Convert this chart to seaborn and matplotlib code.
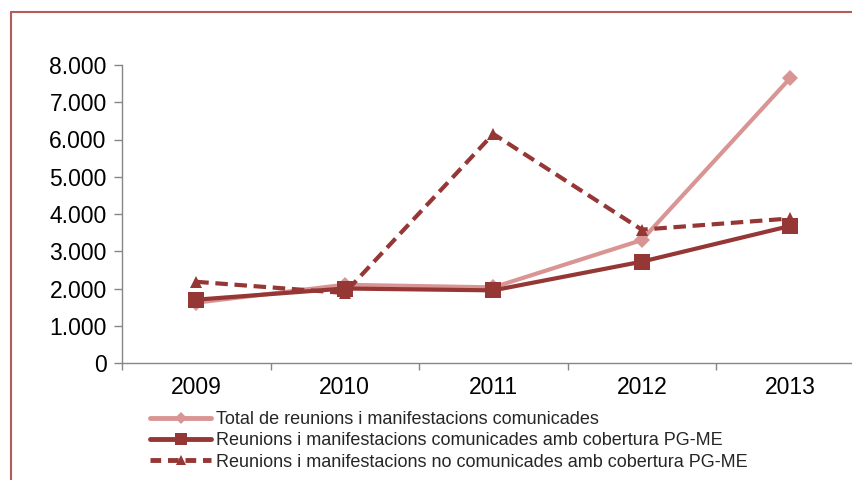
import matplotlib
matplotlib.use("Agg")
import matplotlib.pyplot as plt
from matplotlib.lines import Line2D
from matplotlib.ticker import FuncFormatter, FixedLocator
import numpy as np
import pandas as pd
import seaborn as sns

# data
years = ["2009", "2010", "2011", "2012", "2013"]
total_comunicades = [1620, 2100, 2030, 3300, 7650]
comunicades_pgme = [1700, 2000, 1950, 2720, 3680]
no_comunicades_pgme = [2180, 1880, 6150, 3580, 3880]
labels = [
    "Total de reunions i manifestacions comunicades",
    "Reunions i manifestacions comunicades amb cobertura PG-ME",
    "Reunions i manifestacions no comunicades amb cobertura PG-ME",
]

PINK = "#D99594"
DARK = "#953735"
GREY = "#868686"

sns.set_theme(style="white")
plt.rcParams["font.family"] = ["Liberation Sans", "DejaVu Sans"]

fig = plt.figure(figsize=(8.52, 4.8), dpi=100)
ax = fig.add_axes([122 / 852, 117 / 480, 5 * 148.5 / 852, 298 / 480])

x = np.arange(len(years))
df = pd.DataFrame({"x": x, "total": total_comunicades,
                   "com": comunicades_pgme, "nocom": no_comunicades_pgme})

sns.lineplot(data=df, x="x", y="total", ax=ax, color=PINK, lw=3,
             marker="D", markersize=8, markeredgewidth=0, zorder=3)
sns.lineplot(data=df, x="x", y="com", ax=ax, color=DARK, lw=3,
             marker="s", markersize=11, markeredgewidth=0, zorder=4)
sns.lineplot(data=df, x="x", y="nocom", ax=ax, color=DARK, lw=3,
             linestyle=(0, (3, 1.6)), marker="^", markersize=9,
             markeredgewidth=0, zorder=5)

ax.set_xlim(-0.5, len(years) - 0.5)
ax.set_ylim(0, 8000)
ax.set_xlabel("")
ax.set_ylabel("")

ax.set_yticks(np.arange(0, 8001, 1000))
ax.yaxis.set_major_formatter(FuncFormatter(lambda v, p: f"{int(v):,}".replace(",", ".")))
ax.set_xticks(x)
ax.set_xticklabels(years)
ax.xaxis.set_minor_locator(FixedLocator(np.arange(-0.5, len(years), 1.0)))
ax.tick_params(axis="x", which="major", length=0, pad=9, labelsize=16.5, colors="black")
ax.tick_params(axis="x", which="minor", length=5, width=1, color=GREY, direction="out", bottom=True)
ax.tick_params(axis="y", length=6, width=1, color=GREY, direction="out", left=True,
               labelsize=16.5, pad=5, labelcolor="black")

for side in ["top", "right"]:
    ax.spines[side].set_visible(False)
for side in ["left", "bottom"]:
    ax.spines[side].set_color(GREY)
    ax.spines[side].set_linewidth(1)

handles = [
    Line2D([], [], color=PINK, lw=3.5, marker="D", markersize=6, markeredgewidth=0),
    Line2D([], [], color=DARK, lw=3.5, marker="s", markersize=8, markeredgewidth=0),
    Line2D([], [], color=DARK, lw=3.5, linestyle=(0, (2.2, 1.4)), marker="^",
           markersize=7, markeredgewidth=0),
]
fig.legend(handles, labels, loc="upper left", bbox_to_anchor=(150 / 852, 1 - 411 / 480),
           frameon=False, fontsize=13, handlelength=3.4, handletextpad=0.28,
           labelspacing=0.24, numpoints=1, borderpad=0, borderaxespad=0)

# outer chart border (left and top edges visible in the crop)
fig.add_artist(Line2D([11 / 852, 11 / 852], [0, 1 - 12 / 480], transform=fig.transFigure,
                      color="#B35C5A", lw=1.5))
fig.add_artist(Line2D([11 / 852, 1], [1 - 12 / 480, 1 - 12 / 480], transform=fig.transFigure,
                      color="#B35C5A", lw=1.5))

fig.savefig("out.png", dpi=100)
